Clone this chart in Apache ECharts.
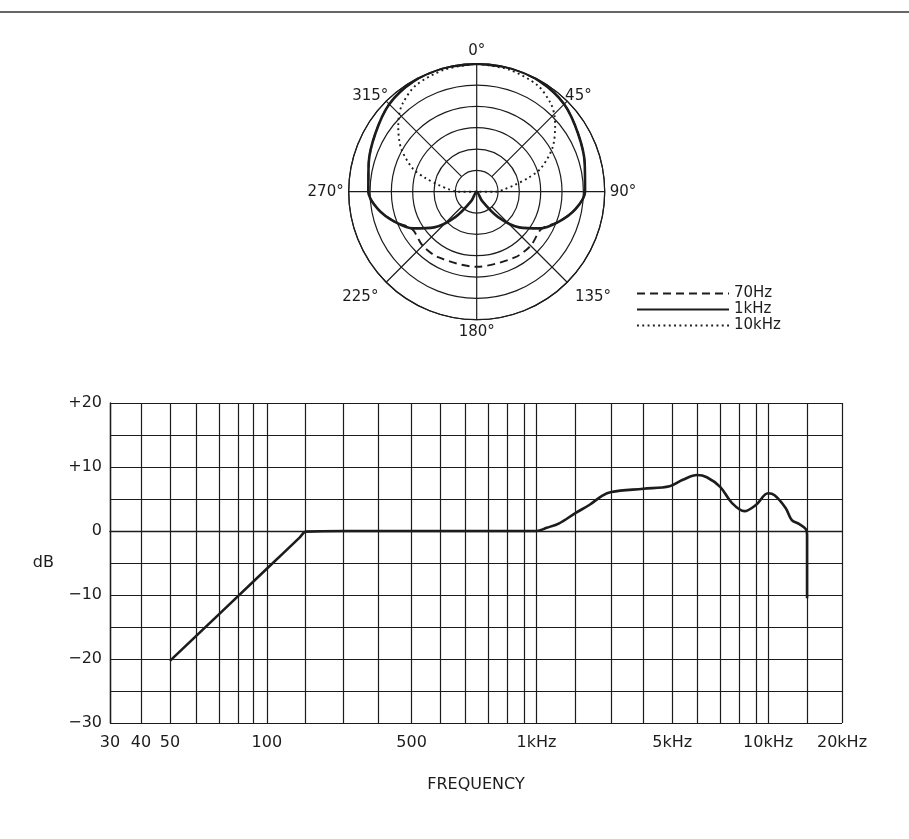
<!DOCTYPE html>
<html>
<head>
<meta charset="utf-8">
<script src="https://cdn.jsdelivr.net/npm/echarts@6/dist/echarts.min.js"></script>
<style>
html, body { margin: 0; padding: 0; background: #fff; }
#chart { width: 909px; height: 839px; }
</style>
</head>
<body>
<div id="chart"></div>
<script>
// polar pattern: angle in degrees (0 = on axis), level in dB
const angles1k = [0, 15, 30, 45, 60, 75, 90, 100, 110, 120, 130, 140, 150, 160, 180, 200, 210, 220, 230, 240, 250, 260, 270, 285, 300, 315, 330, 345, 360];
const level1k = [0, 0, -0.2, -1, -2.6, -3.8, -4.6, -6.5, -9.5, -12.8, -17, -22.3, -27.5, -30, -30, -30, -27.5, -22.3, -17, -12.8, -9.5, -6.5, -4.6, -3.8, -2.6, -1, -0.2, 0, 0];

const angles70 = [0, 15, 30, 45, 60, 75, 90, 100, 110, 120, 135, 150, 180, 210, 225, 240, 250, 260, 270, 285, 300, 315, 330, 345, 360];
const level70 = [0, 0, -0.2, -1, -2.6, -3.8, -4.6, -6.5, -9.5, -12.5, -12.1, -12.2, -12.4, -12.2, -12.1, -12.5, -9.5, -6.5, -4.6, -3.8, -2.6, -1, -0.2, 0, 0];

const angles10k = [0, 15, 30, 40, 45, 50, 60, 70, 75, 80, 85, 90, 97, 263, 270, 275, 280, 285, 290, 300, 310, 315, 320, 330, 345, 360];
const level10k = [0, -0.4, -1.3, -3, -4.3, -6, -9.5, -14, -17.5, -21, -23.5, -25.5, -30, -30, -25.5, -23.5, -21, -17.5, -14, -9.5, -6, -4.3, -3, -1.3, -0.4, 0];

// frequency response
const freqHz = [50, 100, 180, 200, 300, 500, 700, 900, 1000, 1200, 1500, 2000, 2350, 2700, 3000, 4000, 4900, 5400, 6000, 6400, 7000, 7600, 8300, 9000, 10000, 10700, 12000, 12800, 13800, 14800, 15000, 15000];
const levelDb = [-20.3, -5.9, -1, -0.1, 0, 0, 0, 0, 0, 0.5, 1.2, 2.8, 4.1, 5.5, 6.1, 6.6, 7.0, 8.0, 8.75, 8.4, 6.9, 4.4, 3.1, 4.1, 5.9, 5.6, 3.6, 1.7, 1.1, 0.3, -0.6, -10.5];

// the printed frequency scale is not a true log scale,
// so keep its grid lines (Hz) and where each sits on the scale (30 Hz = 0, 20 kHz = 733)
const scaleHz = [30, 40, 50, 60, 70, 80, 90, 100, 200, 300, 400, 500, 600, 700, 800, 900, 950, 1000, 2000, 3000, 4000, 5000, 6000, 7000, 8000, 9000, 10000, 15000, 20000];
const scaleAt = [0, 31, 60, 86, 109, 128, 143, 157, 196, 234, 269, 302, 331, 356, 379, 398, 415, 427, 466, 502, 534, 563, 588, 611, 630, 647, 659, 698, 733];

const labelHz = [30, 40, 50, 100, 500, 1000, 5000, 10000, 20000];
const labelText = ['30', '40', '50', '100', '500', '1kHz', '5kHz', '10kHz', '20kHz'];

const FONT = 'DejaVu Sans';
const INK = '#1c1c1c';

function toScale(hz) {
  for (let i = 0; i < scaleHz.length - 1; i++) {
    if (hz <= scaleHz[i + 1]) {
      const t = Math.log(hz / scaleHz[i]) / Math.log(scaleHz[i + 1] / scaleHz[i]);
      return scaleAt[i] + t * (scaleAt[i + 1] - scaleAt[i]);
    }
  }
  return scaleAt[scaleAt.length - 1];
}

const pairs = (a, b) => a.map((v, i) => [b[i], v]);

const labelAt = labelHz.map(toScale);
const responseData = freqHz.map((f, i) => [toScale(f), levelDb[i]]);

const CENTER = [476.7, 191.7];
const R = 128;
const GRID_LINE = { color: INK, width: 1.2 };

const hiddenRadius = (idx) => ({
  polarIndex: idx,
  type: 'value',
  min: 0,
  max: 1,
  axisLine: { show: false },
  axisTick: { show: false },
  axisLabel: { show: false },
  splitLine: { show: false }
});

const angleLabel = (margin, keep) => ({
  margin: margin,
  fontFamily: FONT,
  fontSize: 15,
  color: INK,
  formatter: v => (keep.indexOf(v) >= 0 ? v + '°' : '')
});

const chart = echarts.init(document.getElementById('chart'), null, { renderer: 'canvas' });

const option = {
  backgroundColor: '#fff',
  animation: false,
  textStyle: { fontFamily: FONT, color: INK },
  // top rule of the page frame
  graphic: [
    {
      type: 'line',
      shape: { x1: 0, y1: 12, x2: 909, y2: 12 },
      style: { stroke: '#333', lineWidth: 1.5 },
      silent: true
    }
  ],
  legend: {
    orient: 'vertical',
    left: 636,
    top: 286,
    padding: 0,
    itemWidth: 92,
    itemHeight: 12,
    itemGap: 1,
    itemStyle: { opacity: 0 },
    textStyle: { fontFamily: FONT, fontSize: 15, lineHeight: 12, color: INK },
    data: ['70Hz', '1kHz', '10kHz']
  },
  polar: [
    { center: CENTER, radius: R },
    { center: CENTER, radius: [21.3, R] },
    { center: CENTER, radius: R }
  ],
  angleAxis: [
    {
      // outer circle, cross lines and 0/90/180/270 labels
      polarIndex: 0,
      type: 'value',
      min: 0,
      max: 360,
      interval: 90,
      startAngle: 90,
      clockwise: true,
      axisLine: { lineStyle: GRID_LINE },
      axisTick: { show: false },
      splitLine: { lineStyle: GRID_LINE },
      axisLabel: angleLabel(5, [0, 90, 180, 270])
    },
    {
      // diagonal lines start at the inner ring, 45/315 labels
      polarIndex: 1,
      type: 'value',
      min: 45,
      max: 405,
      interval: 90,
      startAngle: 45,
      clockwise: true,
      axisLine: { show: false },
      axisTick: { show: false },
      splitLine: { lineStyle: GRID_LINE },
      axisLabel: angleLabel(-3, [45, 315])
    },
    {
      // 135/225 labels
      polarIndex: 2,
      type: 'value',
      min: 45,
      max: 405,
      interval: 90,
      startAngle: 45,
      clockwise: true,
      axisLine: { show: false },
      axisTick: { show: false },
      splitLine: { show: false },
      axisLabel: angleLabel(11, [135, 225])
    }
  ],
  radiusAxis: [
    {
      polarIndex: 0,
      type: 'value',
      min: -30,
      max: 0,
      interval: 5,
      axisLine: { show: false },
      axisTick: { show: false },
      axisLabel: { show: false },
      splitLine: { lineStyle: GRID_LINE }
    },
    hiddenRadius(1),
    hiddenRadius(2)
  ],
  grid: { left: 110, top: 403, width: 732, height: 320, containLabel: false },
  xAxis: {
    type: 'value',
    min: 0,
    max: 733,
    name: 'FREQUENCY',
    nameLocation: 'middle',
    nameGap: 54,
    nameTextStyle: { fontFamily: FONT, fontSize: 16, color: INK },
    axisLine: { lineStyle: { color: INK, width: 1.4 } },
    axisTick: { show: false, customValues: scaleAt },
    splitLine: { show: true, lineStyle: GRID_LINE },
    axisLabel: {
      customValues: labelAt,
      margin: 12,
      fontFamily: FONT,
      fontSize: 16,
      color: INK,
      formatter: v => {
        let best = 0;
        labelAt.forEach((p, i) => { if (Math.abs(p - v) < Math.abs(labelAt[best] - v)) best = i; });
        return labelText[best];
      }
    }
  },
  yAxis: {
    type: 'value',
    min: -30,
    max: 20,
    interval: 5,
    name: 'dB',
    nameLocation: 'middle',
    nameRotate: 0,
    nameGap: 56,
    nameTextStyle: { fontFamily: FONT, fontSize: 16, color: INK },
    axisLine: { show: true, lineStyle: { color: INK, width: 1.4 } },
    axisTick: { show: false },
    splitLine: { show: true, lineStyle: GRID_LINE },
    axisLabel: {
      margin: 8,
      fontFamily: FONT,
      fontSize: 16,
      color: INK,
      formatter: v => {
        if (v % 10 !== 0) return '';
        if (v > 0) return '+' + v;
        if (v < 0) return '\u2212' + (-v);
        return '0';
      }
    }
  },
  series: [
    {
      name: '70Hz',
      type: 'line',
      coordinateSystem: 'polar',
      polarIndex: 0,
      symbol: 'none',
      smooth: 0.3,
      data: pairs(angles70, level70),
      lineStyle: { color: INK, width: 1.9, type: [8, 5] },
      z: 2
    },
    {
      name: '1kHz',
      type: 'line',
      coordinateSystem: 'polar',
      polarIndex: 0,
      symbol: 'none',
      smooth: 0.3,
      data: pairs(angles1k, level1k),
      lineStyle: { color: INK, width: 2.6 },
      z: 3
    },
    {
      name: '10kHz',
      type: 'line',
      coordinateSystem: 'polar',
      polarIndex: 0,
      symbol: 'none',
      smooth: 0.3,
      data: pairs(angles10k, level10k),
      lineStyle: { color: INK, width: 1.9, type: [1.9, 3.4] },
      z: 2
    },
    {
      name: 'response',
      type: 'line',
      xAxisIndex: 0,
      yAxisIndex: 0,
      symbol: 'none',
      smooth: 0.35,
      data: responseData,
      lineStyle: { color: INK, width: 2.6 },
      z: 3
    }
  ]
};

option && chart.setOption(option);
</script>
</body>
</html>
